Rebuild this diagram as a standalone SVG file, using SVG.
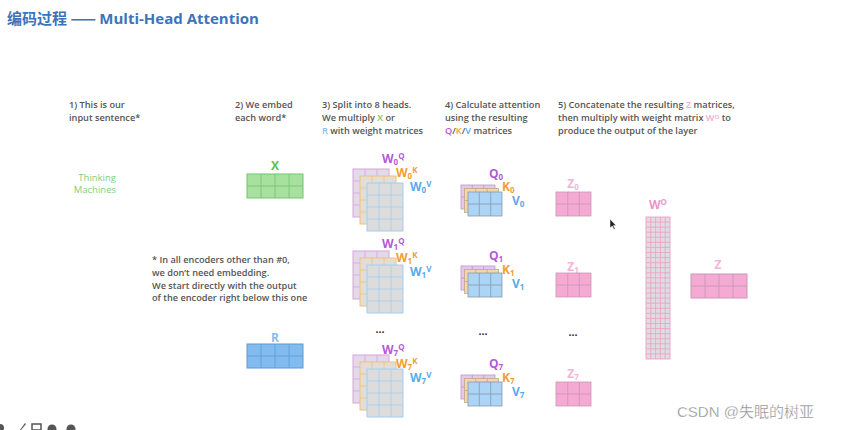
<svg xmlns="http://www.w3.org/2000/svg" width="865" height="430" viewBox="0 0 865 430">
<style>
.t{font-family:"Open Sans","Noto Sans","Liberation Sans",sans-serif;font-weight:600;font-size:9.2px;fill:#555}
.lab{font-family:"Open Sans","Noto Sans","Liberation Sans",sans-serif;font-weight:700;font-size:12px}
.sub{font-size:8px}
.pu{fill:#b45ad6}.or{fill:#f0a030}.bl{fill:#5aaaea}
.dots{font-family:"Liberation Sans",sans-serif;font-weight:700;font-size:11px;fill:#333}
.gl{fill:none;stroke-width:0.8}
</style>
<defs>
<g id="wP"><rect width="36" height="48" fill="#e2dae6" stroke="#d9a2e6" stroke-width="1"/><path class="gl" stroke="#d9a2e6" d="M12 0V48M24 0V48M0 12H36M0 24H36M0 36H36"/></g>
<g id="wO"><rect width="36" height="48" fill="#e2ded6" stroke="#f2bf78" stroke-width="1"/><path class="gl" stroke="#f2bf78" d="M12 0V48M24 0V48M0 12H36M0 24H36M0 36H36"/></g>
<g id="wB"><rect width="36" height="48" fill="#dcdcdc" stroke="#a2cdf2" stroke-width="1"/><path class="gl" stroke="#a2cdf2" d="M12 0V48M24 0V48M0 12H36M0 24H36M0 36H36"/></g>
<g id="qP"><rect width="34" height="24" fill="#e6c8ef" stroke="#b898c0" stroke-width="0.8"/><path class="gl" stroke="#b898c0" d="M11.3 0V24M22.7 0V24M0 12H34"/></g>
<g id="qO"><rect width="34" height="24" fill="#f4d6aa" stroke="#c0a888" stroke-width="0.8"/><path class="gl" stroke="#c0a888" d="M11.3 0V24M22.7 0V24M0 12H34"/></g>
<g id="qB"><rect width="34" height="24" fill="#acd4f6" stroke="#8a98a8" stroke-width="0.8"/><path class="gl" stroke="#8a98a8" d="M11.3 0V24M22.7 0V24M0 12H34"/></g>
<g id="zS"><rect width="35" height="24" fill="#f4aad2" stroke="#c898b4" stroke-width="0.8"/><path class="gl" stroke="#c898b4" d="M11.7 0V24M23.3 0V24M0 12H35"/></g>
</defs>

<text x="7" y="24" font-family="'Noto Sans CJK SC','Open Sans',sans-serif" font-weight="700" font-size="15" fill="#3c74bc">编码过程 —— <tspan font-family="'Open Sans','Liberation Sans',sans-serif">Multi-Head Attention</tspan></text>

<g id="step1"><text class="t" x="69" y="108">1) This is our</text><text class="t" x="69" y="121">input sentence*</text></g>
<g id="step2"><text class="t" x="235" y="108">2) We embed</text><text class="t" x="235" y="121">each word*</text></g>
<g id="step3"><text class="t" x="322" y="108">3) Split into 8 heads.</text><text class="t" x="322" y="121">We multiply <tspan fill="#6cc860">X</tspan> or</text><text class="t" x="322" y="134"><tspan fill="#8cc0ee">R</tspan> with weight matrices</text></g>
<g id="step4"><text class="t" x="445" y="108">4) Calculate attention</text><text class="t" x="445" y="121">using the resulting</text><text class="t" x="445" y="134"><tspan fill="#b45ad6">Q</tspan>/<tspan fill="#f0a030">K</tspan>/<tspan fill="#5aaaea">V</tspan> matrices</text></g>
<g id="step5"><text class="t" x="558" y="108">5) Concatenate the resulting <tspan fill="#f4aad2">Z</tspan> matrices,</text><text class="t" x="558" y="121">then multiply with weight matrix <tspan fill="#f4aad2">W<tspan font-size="6" dy="-2.5">O</tspan></tspan><tspan dy="2.5"> to</tspan></text><text class="t" x="558" y="134">produce the output of the layer</text></g>

<g id="input"><text x="116" y="181" text-anchor="end" font-family="'Open Sans','Liberation Sans',sans-serif" font-size="9.5" fill="#7fd07a">Thinking</text><text x="116" y="193" text-anchor="end" font-family="'Open Sans','Liberation Sans',sans-serif" font-size="9.5" fill="#7fd07a">Machines</text></g>

<g id="footnote"><text class="t" x="152" y="263">* In all encoders other than #0,</text><text class="t" x="152" y="276">we don’t need embedding.</text><text class="t" x="152" y="289">We start directly with the output</text><text class="t" x="152" y="301">of the encoder right below this one</text></g>

<g id="X"><text class="lab" x="275" y="170" text-anchor="middle" fill="#5cbf4c" font-size="13">X</text><rect x="247" y="174" width="56" height="24" fill="#a8e0a0" stroke="#74c46c"/><path class="gl" stroke="#74c46c" d="M261 174V198M275 174V198M289 174V198M247 186H303"/></g>
<g id="R"><text class="lab" x="275" y="342" text-anchor="middle" fill="#86bdf0" font-size="13">R</text><rect x="247" y="344" width="56" height="24" fill="#82bcee" stroke="#5a9ad8"/><path class="gl" stroke="#5a9ad8" d="M261 344V368M275 344V368M289 344V368M247 356H303"/></g>

<g id="W0"><use href="#wP" x="353" y="169"/><use href="#wO" x="360" y="176"/><use href="#wB" x="367" y="183"/>
<text class="lab pu" x="382" y="163">W<tspan class="sub" dy="2">0</tspan><tspan class="sub" dy="-6">Q</tspan></text>
<text class="lab or" x="396" y="177">W<tspan class="sub" dy="2">0</tspan><tspan class="sub" dy="-6">K</tspan></text>
<text class="lab bl" x="410" y="191">W<tspan class="sub" dy="2">0</tspan><tspan class="sub" dy="-6">V</tspan></text></g>
<g id="W1"><use href="#wP" x="353" y="251"/><use href="#wO" x="360" y="258"/><use href="#wB" x="367" y="265"/>
<text class="lab pu" x="382" y="248">W<tspan class="sub" dy="2">1</tspan><tspan class="sub" dy="-6">Q</tspan></text>
<text class="lab or" x="396" y="262">W<tspan class="sub" dy="2">1</tspan><tspan class="sub" dy="-6">K</tspan></text>
<text class="lab bl" x="410" y="276">W<tspan class="sub" dy="2">1</tspan><tspan class="sub" dy="-6">V</tspan></text></g>
<g id="W7"><use href="#wP" x="353" y="355"/><use href="#wO" x="360" y="362"/><use href="#wB" x="367" y="369"/>
<text class="lab pu" x="382" y="354">W<tspan class="sub" dy="2">7</tspan><tspan class="sub" dy="-6">Q</tspan></text>
<text class="lab or" x="396" y="368">W<tspan class="sub" dy="2">7</tspan><tspan class="sub" dy="-6">K</tspan></text>
<text class="lab bl" x="410" y="382">W<tspan class="sub" dy="2">7</tspan><tspan class="sub" dy="-6">V</tspan></text></g>

<g id="QKV0"><use href="#qP" x="461" y="185"/><use href="#qO" x="464.5" y="188.5"/><use href="#qB" x="468" y="192"/>
<text class="lab pu" x="489" y="178">Q<tspan class="sub" dy="2">0</tspan></text>
<text class="lab or" x="502" y="191">K<tspan class="sub" dy="2">0</tspan></text>
<text class="lab bl" x="512" y="205">V<tspan class="sub" dy="2">0</tspan></text></g>
<g id="QKV1"><use href="#qP" x="461" y="266"/><use href="#qO" x="464.5" y="269.5"/><use href="#qB" x="468" y="273"/>
<text class="lab pu" x="489" y="260">Q<tspan class="sub" dy="2">1</tspan></text>
<text class="lab or" x="502" y="274">K<tspan class="sub" dy="2">1</tspan></text>
<text class="lab bl" x="512" y="288">V<tspan class="sub" dy="2">1</tspan></text></g>
<g id="QKV7"><use href="#qP" x="461" y="375"/><use href="#qO" x="464.5" y="378.5"/><use href="#qB" x="468" y="382"/>
<text class="lab pu" x="489" y="368">Q<tspan class="sub" dy="2">7</tspan></text>
<text class="lab or" x="502" y="382">K<tspan class="sub" dy="2">7</tspan></text>
<text class="lab bl" x="512" y="396">V<tspan class="sub" dy="2">7</tspan></text></g>

<g id="Z0"><text class="lab" x="573" y="188" text-anchor="middle" fill="#f4b4d8">Z<tspan class="sub" dy="2">0</tspan></text><use href="#zS" x="556" y="192"/></g>
<g id="Z1"><text class="lab" x="573" y="271" text-anchor="middle" fill="#f4b4d8">Z<tspan class="sub" dy="2">1</tspan></text><use href="#zS" x="556" y="273"/></g>
<g id="Z7"><text class="lab" x="573" y="378" text-anchor="middle" fill="#f4b4d8">Z<tspan class="sub" dy="2">7</tspan></text><use href="#zS" x="556" y="382"/></g>

<g id="dots"><text class="dots" x="380" y="333" text-anchor="middle">...</text><text class="dots" x="483" y="335" text-anchor="middle">...</text><text class="dots" x="573" y="336" text-anchor="middle">...</text></g>

<g id="WO"><text class="lab" x="658" y="209" text-anchor="middle" fill="#ea96c6">W<tspan class="sub" dy="-4">O</tspan></text>
<rect x="646" y="217" width="24" height="142" fill="#dedede" stroke="#ee9ccc" stroke-width="0.9"/>
<path class="gl" stroke="#ee9ccc" stroke-width="0.7" d="M650.8 217V359M655.6 217V359M660.4 217V359M665.2 217V359M646 222.07H670M646 227.14H670M646 232.21H670M646 237.29H670M646 242.36H670M646 247.43H670M646 252.5H670M646 257.57H670M646 262.64H670M646 267.71H670M646 272.79H670M646 277.86H670M646 282.93H670M646 288H670M646 293.07H670M646 298.14H670M646 303.21H670M646 308.29H670M646 313.36H670M646 318.43H670M646 323.5H670M646 328.57H670M646 333.64H670M646 338.71H670M646 343.79H670M646 348.86H670M646 353.93H670"/></g>

<g id="Z"><text class="lab" x="718" y="269" text-anchor="middle" fill="#f4b4d8">Z</text><rect x="691" y="274" width="56" height="24" fill="#f4aad2" stroke="#c898b4"/><path class="gl" stroke="#c898b4" d="M705 274V298M719 274V298M733 274V298M691 286H747"/></g>

<path d="M610 219L610 228L612.2 226L614 229.5L615.2 229L613.4 225.6L616 225.4Z" fill="#222" stroke="#fff" stroke-width="0.5"/>

<g fill="#555"><circle cx="0" cy="428" r="4"/><path d="M20 430L25 423L26 424L21 430Z"/><rect x="32" y="424" width="9" height="6" fill="none" stroke="#555" stroke-width="1.5"/><circle cx="52" cy="429" r="4.5"/><circle cx="71" cy="429" r="4.5"/></g>

<text x="677" y="417" font-family="'Liberation Sans','Noto Sans CJK SC',sans-serif" font-size="15" fill="#8a8a8a" stroke="#fff" stroke-width="0.3">CSDN @失眠的树亚</text>
</svg>
